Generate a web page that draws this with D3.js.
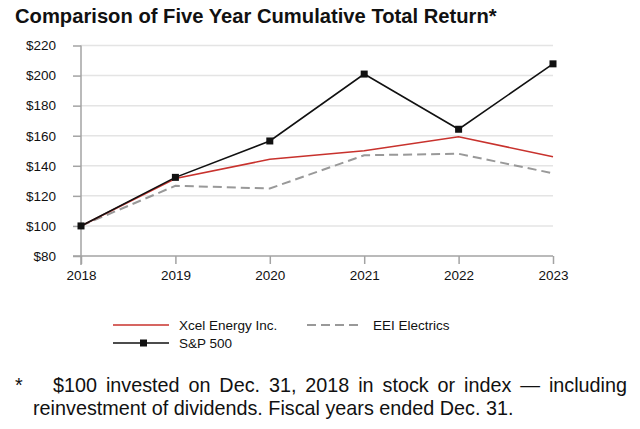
<!DOCTYPE html>
<html>
<head>
<meta charset="utf-8">
<script src="https://cdn.jsdelivr.net/npm/d3@7"></script>
<style>
  body { margin: 0; background: #fff; }
  text { font-family: "Liberation Sans", Arial, sans-serif; fill: #111; }
</style>
</head>
<body>
<svg id="chart"></svg>
<script>
var years = [2018, 2019, 2020, 2021, 2022, 2023];
var xcel = [100, 131.5, 144.3, 150, 159.3, 146];
var eei = [100, 126.7, 124.9, 147, 148, 135];
var sp500 = [100, 132.3, 156.5, 201, 164.3, 207.8];
var yTicks = [80, 100, 120, 140, 160, 180, 200, 220];

var width = 640;
var height = 429;

var svg = d3.select('#chart')
            .attr('width', width)
            .attr('height', height)
            .style('display', 'block');

var x = d3.scalePoint().domain(years).range([81, 553]);
var y = d3.scaleLinear().domain([80, 220]).range([256, 45.5]);

var axisColor = '#a3a3a3';
var gridColor = '#e4e4e4';
var tickFont = '13.5px';

// title
svg.append('text')
   .attr('x', 15)
   .attr('y', 23)
   .style('font-size', '20.2px')
   .style('font-weight', 'bold')
   .text('Comparison of Five Year Cumulative Total Return*');

// gridlines
svg.append('g')
   .selectAll('line')
   .data(yTicks.slice(1))
   .enter()
   .append('line')
   .attr('x1', 81)
   .attr('x2', 553)
   .attr('y1', function(d){ return y(d); })
   .attr('y2', function(d){ return y(d); })
   .attr('stroke', gridColor)
   .attr('stroke-width', 1.5);

// y axis
var yAxis = svg.append('g')
   .attr('transform', 'translate(81,0)')
   .call(d3.axisLeft(y).tickValues(yTicks).tickSize(8).tickPadding(17)
          .tickFormat(function(d){ return '$' + d; }));
yAxis.select('.domain').remove();
yAxis.append('line')
     .attr('x1', 0).attr('x2', 0)
     .attr('y1', y(220)).attr('y2', y(80) + 9)
     .attr('stroke', axisColor).attr('stroke-width', 1.5);
yAxis.selectAll('.tick line').attr('stroke', axisColor).attr('stroke-width', 1.5);
yAxis.selectAll('.tick text')
     .style('font-size', tickFont)
     .style('font-family', '"Liberation Sans", Arial, sans-serif')
     .attr('fill', '#111');

// x axis
var xAxis = svg.append('g')
   .attr('transform', 'translate(0,' + y(80) + ')')
   .call(d3.axisBottom(x).tickSize(8).tickPadding(6));
xAxis.select('.domain').remove();
xAxis.append('line')
     .attr('x1', 73).attr('x2', 553)
     .attr('stroke', axisColor).attr('stroke-width', 1.5);
xAxis.selectAll('.tick line').attr('stroke', axisColor).attr('stroke-width', 1.5);
xAxis.selectAll('.tick text')
     .style('font-size', tickFont)
     .style('font-family', '"Liberation Sans", Arial, sans-serif')
     .attr('fill', '#111');

var series = [
  {name: 'EEI Electrics', values: eei, color: '#999999', width: 2, dash: '9,5', marker: false},
  {name: 'Xcel Energy Inc.', values: xcel, color: '#c8322d', width: 1.6, dash: null, marker: false},
  {name: 'S&P 500', values: sp500, color: '#111111', width: 1.6, dash: null, marker: true}
];

var line = d3.line()
  .x(function(d, i){ return x(years[i]); })
  .y(function(d){ return y(d); });

series.forEach(function(s){
  svg.append('path')
     .attr('d', line(s.values))
     .attr('fill', 'none')
     .attr('stroke', s.color)
     .attr('stroke-width', s.width)
     .attr('stroke-dasharray', s.dash);
  if (s.marker) {
    svg.selectAll('rect.marker')
       .data(s.values)
       .enter()
       .append('rect')
       .attr('class', 'marker')
       .attr('x', function(d, i){ return x(years[i]) - 3.5; })
       .attr('y', function(d){ return y(d) - 3.5; })
       .attr('width', 7)
       .attr('height', 7)
       .attr('fill', s.color);
  }
});

// legend
var legendItems = [
  {s: series[1], x: 113, y: 325},
  {s: series[0], x: 307, y: 325},
  {s: series[2], x: 113, y: 343}
];
legendItems.forEach(function(d){
  svg.append('line')
     .attr('x1', d.x).attr('x2', d.x + 56)
     .attr('y1', d.y).attr('y2', d.y)
     .attr('stroke', d.s.color)
     .attr('stroke-width', d.s.width)
     .attr('stroke-dasharray', d.s.dash);
  if (d.s.marker) {
    svg.append('rect')
       .attr('x', d.x + 27).attr('y', d.y - 3.5)
       .attr('width', 7).attr('height', 7)
       .attr('fill', d.s.color);
  }
  svg.append('text')
     .attr('x', d.x + 66)
     .attr('y', d.y + 5)
     .style('font-size', '13.5px')
     .text(d.s.name);
});

// footnote, first line justified by widening the word gaps
svg.append('text')
   .attr('x', 15).attr('y', 392)
   .style('font-size', '19.8px')
   .text('*');
var line1 = '$100 invested on Dec. 31, 2018 in stock or index \u2014 including';
var foot1 = svg.append('text')
   .attr('x', 53).attr('y', 392)
   .style('font-size', '19.8px')
   .text(line1);
var natural = foot1.node().getComputedTextLength();
var gaps = line1.split(' ').length - 1;
foot1.style('word-spacing', Math.max(0, (574 - natural) / gaps) + 'px');
svg.append('text')
   .attr('x', 33).attr('y', 415)
   .style('font-size', '19.8px')
   .text('reinvestment of dividends. Fiscal years ended Dec. 31.');
</script>
</body>
</html>
